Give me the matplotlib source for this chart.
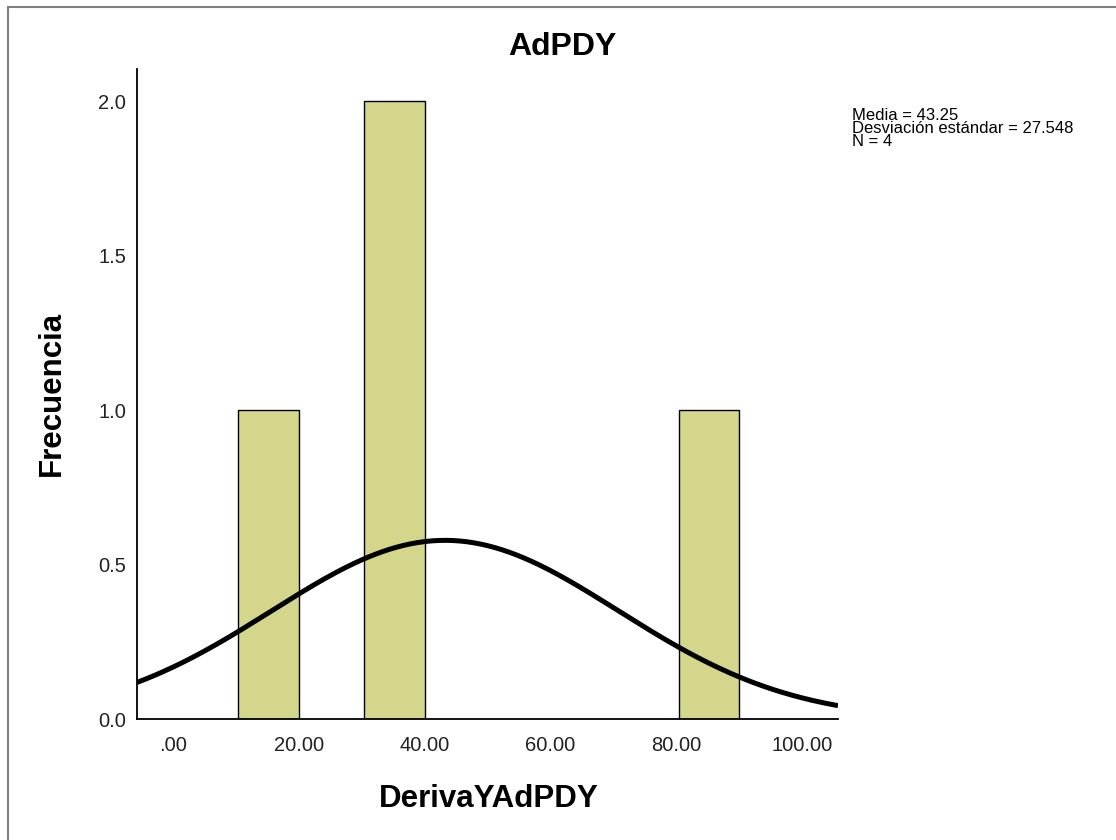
import numpy as np
import matplotlib
matplotlib.use("Agg")
import matplotlib.pyplot as plt
from matplotlib.patches import Rectangle

# Histogram of DerivaYAdPDY
bin_lo = [10, 30, 80]
bin_width = 10
counts = [1, 2, 1]

mean_val = 43.25
std_val = 27.548
n_obs = 4

x_ticks = [0, 20, 40, 60, 80, 100]
x_tick_labels = [".00", "20.00", "40.00", "60.00", "80.00", "100.00"]
y_ticks = [0.0, 0.5, 1.0, 1.5, 2.0]
y_tick_labels = ["0.0", "0.5", "1.0", "1.5", "2.0"]

plt.rcParams["font.family"] = ["Liberation Sans", "DejaVu Sans"]

W, H = 1116, 840
fig = plt.figure(figsize=(W / 100, H / 100), dpi=100)
ax = fig.add_axes([137 / W, 1 - 719.3 / H, (838 - 137) / W, (719.3 - 69) / H])

bar_color = "#d4d68b"
for lo, c in zip(bin_lo, counts):
    ax.bar(lo + 0.4, c, width=bin_width * 0.96, align="edge",
           color=bar_color, edgecolor="black", linewidth=1.0, zorder=2)

# Normal curve scaled to counts
xs = np.linspace(-5.72, 105.72, 400)
pdf = np.exp(-0.5 * ((xs - mean_val) / std_val) ** 2) / (std_val * np.sqrt(2 * np.pi))
ax.plot(xs, pdf * n_obs * bin_width, color="black", linewidth=3.6, zorder=3,
        solid_capstyle="butt")

ax.set_xlim(-5.72, 105.72)
ax.set_ylim(0, 2.105)
ax.set_xticks(x_ticks)
ax.set_xticklabels(x_tick_labels)
ax.set_yticks(y_ticks)
ax.set_yticklabels(y_tick_labels)
ax.tick_params(axis="both", length=0, labelsize=14.5, colors="#222222")
ax.tick_params(axis="x", pad=12)
ax.tick_params(axis="y", pad=8)
for s in ["top", "right"]:
    ax.spines[s].set_visible(False)
for s in ["left", "bottom"]:
    ax.spines[s].set_linewidth(1.3)
    ax.spines[s].set_color("black")

fig.text(562 / W, 1 - 47 / H, "AdPDY", ha="center", va="center",
         fontsize=23, fontweight="bold")
fig.text(488.5 / W, 1 - 799 / H, "DerivaYAdPDY", ha="center", va="center",
         fontsize=22.5, fontweight="bold")
fig.text(52 / W, 1 - 393 / H, "Frecuencia", ha="center", va="center",
         rotation=90, fontsize=22.5, fontweight="bold")

stats_lines = [f"Media = {mean_val:.2f}",
               f"Desviación estándar = {std_val:.3f}",
               f"N = {n_obs}"]
for i, line in enumerate(stats_lines):
    fig.text(852 / W, 1 - (115 + 13.5 * i) / H, line, ha="left", va="center",
             fontsize=12, color="black")

# Outer frame
fig.add_artist(Rectangle((8 / W, -0.05), 1.1, 1 - 7 / H + 0.05,
                         transform=fig.transFigure, fill=False,
                         edgecolor="#808080", linewidth=1.5))

fig.savefig("out.png", dpi=100)
